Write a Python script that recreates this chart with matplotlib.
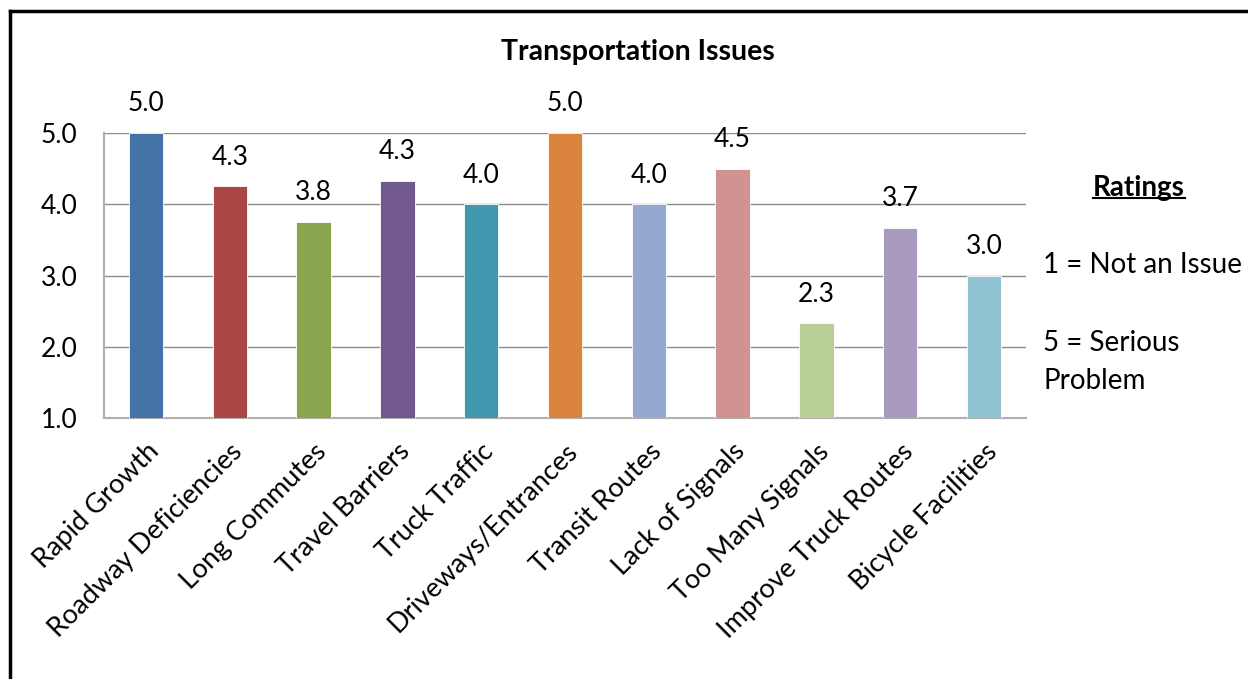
import matplotlib
matplotlib.use('Agg')
import matplotlib.pyplot as plt
from matplotlib.lines import Line2D

plt.rcParams['font.family'] = ['Lato', 'DejaVu Sans']

# data
categories = ['Rapid Growth', 'Roadway Deficiencies', 'Long Commutes', 'Travel Barriers',
              'Truck Traffic', 'Driveways/Entrances', 'Transit Routes', 'Lack of Signals',
              'Too Many Signals', 'Improve Truck Routes', 'Bicycle Facilities']
ratings = [5.0, 4.25, 3.75, 4.33, 4.0, 5.0, 4.0, 4.5, 2.33, 3.67, 3.0]
rating_labels = ['5.0', '4.3', '3.8', '4.3', '4.0', '5.0', '4.0', '4.5', '2.3', '3.7', '3.0']
bar_colors = ['#4572A7', '#AA4643', '#89A54E', '#71588F', '#4198AF', '#DB843D',
              '#93A9CF', '#D19392', '#B9CD96', '#A99BBD', '#92C3D3']
y_ticks = [1.0, 2.0, 3.0, 4.0, 5.0]

W, H = 1248, 679
fig = plt.figure(figsize=(W / 100, H / 100), dpi=100)
ax = fig.add_axes([104 / W, 1 - 418 / H, (1026 - 104) / W, (418 - 133) / H])

x = list(range(len(categories)))
ax.bar(x, [r - 1.0 for r in ratings], bottom=1.0, width=0.41, color=bar_colors,
       edgecolor='white', linewidth=0.6, zorder=3)
for xi, r, lbl in zip(x, ratings, rating_labels):
    ax.annotate(lbl, (xi, r), xytext=(0, 21), textcoords='offset points',
                ha='center', va='center', fontsize=19, color='black')

ax.set_xlim(-0.5, len(categories) - 0.5)
ax.set_ylim(1.0, 5.0)
ax.set_yticks(y_ticks)
ax.set_yticklabels([f'{t:.1f}' for t in y_ticks], fontsize=19)
ax.yaxis.grid(True, color='#8c8c8c', lw=1.0, zorder=0)
ax.set_xticks(x)
ax.set_xticklabels(categories, rotation=45, ha='right', rotation_mode='anchor', fontsize=19.5)
ax.tick_params(axis='y', length=0, pad=19)
ax.tick_params(axis='x', length=0, pad=15)
for s in ['top', 'right']:
    ax.spines[s].set_visible(False)
for s in ['left', 'bottom']:
    ax.spines[s].set_color('#b0b0b0')
    ax.spines[s].set_linewidth(1.5)

fig.text(638 / W, 1 - 52 / H, 'Transportation Issues', ha='center', va='center',
         fontsize=20.5, fontweight='bold')

# ratings key on the right
t = fig.text(1139 / W, 1 - 188 / H, 'Ratings', ha='center', va='center',
             fontsize=20, fontweight='bold')
fig.canvas.draw()
bb = t.get_window_extent().transformed(fig.transFigure.inverted())
fig.add_artist(Line2D([bb.x0, bb.x1], [bb.y0 + 0.004, bb.y0 + 0.004],
                      transform=fig.transFigure, color='black', lw=1.5))
fig.text(1043 / W, 1 - 265 / H, '1 = Not an Issue', ha='left', va='center', fontsize=20)
fig.text(1043 / W, 1 - 362 / H, '5 = Serious\nProblem', ha='left', va='center',
         fontsize=20, linespacing=1.55)

# frame lines (left and top only)
fig.add_artist(Line2D([10 / W, 10 / W], [0, 1 - 11 / H], transform=fig.transFigure,
                      color='black', lw=2.5))
fig.add_artist(Line2D([10 / W, 1], [1 - 11 / H, 1 - 11 / H], transform=fig.transFigure,
                      color='black', lw=2.5))

fig.savefig('out.png', dpi=100)
